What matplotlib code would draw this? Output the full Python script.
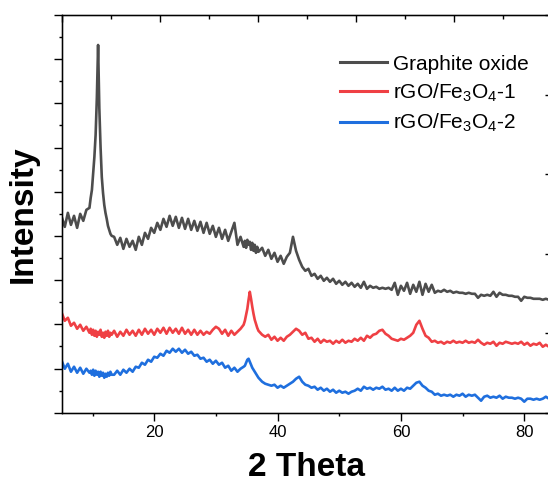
import numpy as np
import matplotlib
matplotlib.use('Agg')
import matplotlib.pyplot as plt
from matplotlib.ticker import MultipleLocator, FixedLocator, NullFormatter

plt.rcParams['font.family'] = ['Liberation Sans', 'DejaVu Sans']
plt.rcParams['mathtext.fontset'] = 'custom'
plt.rcParams['mathtext.rm'] = 'Liberation Sans'
plt.rcParams['mathtext.default'] = 'regular'

# 2-theta sampling (denser around the sharp peaks)
two_theta = np.concatenate([
    np.arange(5.0, 9.51, 0.5),
    np.arange(9.7, 13.11, 0.2),
    np.arange(13.5, 34.51, 0.5),
    np.arange(34.7, 36.91, 0.2),
    np.arange(37.5, 84.01, 0.5),
])

# Intensities (arbitrary units)
graphite_oxide = [
    196, 186, 200, 188, 197, 185, 199, 192, 203, 205,
    215, 223, 240, 256, 278, 315, 368, 305, 266, 236, 220, 208, 200, 194, 187, 183, 179, 177,
    176, 168, 175, 164, 174, 166, 172, 163, 176, 168, 180, 174, 185, 180, 190, 183, 194, 186,
    197, 187, 196, 185, 195, 184, 194, 183, 192, 182, 191, 180, 190, 179, 187, 176, 185, 174,
    183, 172, 181, 190, 168, 176, 166,
    172, 165, 173, 168, 171, 163, 170, 162, 168, 160, 166, 161,
    165, 157, 163, 154, 160, 151, 157, 149, 156, 160, 176, 162, 153, 146, 142, 144, 137, 139,
    134, 137, 132, 135, 131, 134, 129, 132, 128, 131, 127, 130, 126, 129, 125, 131, 124, 127,
    125, 126, 124, 125, 124, 125, 123, 130, 118, 127, 122, 130, 119, 128, 121, 131, 118, 129,
    121, 128, 120, 122, 121, 123, 121, 122, 120, 121, 120, 120, 119, 120, 119, 119, 115, 118,
    117, 118, 117, 121, 116, 120, 118, 118, 117, 117, 116, 116, 112, 116, 115, 115, 114, 114,
    114, 113, 114, 113,
]
rgo_fe3o4_1 = [
    100, 92, 95, 87, 90, 84, 88, 82, 86, 80,
    84, 78, 83, 77, 82, 76, 81, 78, 83, 76, 80, 75, 81, 77, 82, 76, 80, 78,
    82, 76, 81, 77, 83, 78, 82, 77, 83, 78, 84, 79, 83, 78, 84, 80, 85, 79, 85, 80, 84, 79,
    85, 79, 83, 78, 83, 78, 82, 78, 81, 79, 83, 86, 84, 79, 83, 77, 82, 78, 81, 84, 88,
    92, 98, 104, 113, 121, 114, 106, 99, 93, 89, 85, 82,
    78, 76, 78, 73, 76, 72, 75, 72, 76, 78, 81, 84, 82, 78, 80, 74, 75, 71, 74, 70, 73, 71,
    72, 69, 72, 70, 73, 70, 72, 71, 74, 72, 75, 72, 77, 75, 78, 79, 82, 83, 79, 77, 74, 73,
    72, 74, 73, 75, 77, 80, 88, 92, 84, 77, 75, 71, 72, 70, 71, 69, 71, 70, 72, 70, 71, 70,
    72, 70, 71, 70, 73, 70, 68, 70, 69, 71, 67, 70, 69, 71, 70, 69, 70, 69, 71, 68, 70, 67,
    69, 68, 70, 66, 68, 66,
]
rgo_fe3o4_2 = [
    52, 44, 49, 41, 46, 40, 45, 39, 44, 40,
    42, 38, 43, 37, 42, 38, 41, 36, 41, 37, 40, 35, 39, 36, 40, 37, 41, 38,
    38, 42, 38, 43, 40, 44, 41, 46, 45, 50, 48, 53, 51, 56, 55, 59, 57, 62, 60, 64, 61, 64,
    60, 63, 59, 61, 57, 58, 54, 55, 51, 53, 49, 52, 48, 50, 45, 47, 42, 45, 41, 44, 46,
    47, 50, 53, 54, 51, 48, 45, 43, 41, 39, 37, 35,
    31, 29, 28, 27, 28, 25, 27, 25, 27, 29, 31, 34, 36, 31, 28, 27, 25, 26, 23, 25, 22, 24,
    21, 23, 20, 22, 20, 21, 19, 21, 22, 24, 22, 26, 24, 25, 23, 25, 24, 26, 23, 24, 22, 25,
    22, 24, 22, 25, 24, 27, 30, 31, 27, 25, 22, 21, 18, 19, 17, 18, 17, 18, 16, 18, 17, 19,
    16, 18, 17, 18, 15, 12, 16, 17, 15, 16, 15, 17, 14, 16, 15, 15, 14, 15, 14, 11, 14, 14,
    13, 14, 13, 14, 16, 14,
]

labels = ['Graphite oxide', 'rGO/Fe$_3$O$_4$-1', 'rGO/Fe$_3$O$_4$-2']
colors = ['#4d4d4d', '#ef4044', '#1f6fde']

W, H = 548, 484
fig = plt.figure(figsize=(W / 100, H / 100), dpi=100)
ax = fig.add_axes([61.7 / W, 71.3 / H, 490.3 / W, 397.7 / H])

for series, lab, col in zip([graphite_oxide, rgo_fe3o4_1, rgo_fe3o4_2], labels, colors):
    ax.plot(two_theta, series, color=col, lw=1.9, label=lab)

ax.set_xlim(5.0, 84.5)
ax.set_ylim(0, 398)
ax.xaxis.set_major_locator(MultipleLocator(20))
ax.xaxis.set_minor_locator(MultipleLocator(10))
ax.yaxis.set_major_locator(FixedLocator(np.linspace(0, 398, 10)))
ax.yaxis.set_minor_locator(FixedLocator(np.linspace(22.11, 375.89, 9)))
ax.yaxis.set_major_formatter(NullFormatter())
ax.tick_params(which='both', direction='out', top=False, right=False, width=1.0, color='black')
ax.tick_params(which='major', length=5.8)
ax.tick_params(which='minor', length=2.4)
ax.tick_params(axis='x', labelsize=12, pad=3.4)
for sp in ax.spines.values():
    sp.set_linewidth(1.0)
    sp.set_color('black')

# mirrored axes (own tick spacing, ticks pointing inward)
axt = ax.twiny()
axt.set_xlim(0, 10)
axt.xaxis.set_major_locator(MultipleLocator(2))
axt.xaxis.set_minor_locator(MultipleLocator(1))
axt.tick_params(axis='x', which='both', direction='in', labeltop=False, width=1.0)
axt.tick_params(axis='x', which='major', length=5.0)
axt.tick_params(axis='x', which='minor', length=3.0)

axr = ax.twinx()
axr.set_ylim(0, 5)
axr.yaxis.set_major_locator(MultipleLocator(1))
axr.yaxis.set_minor_locator(MultipleLocator(0.5))
axr.tick_params(axis='y', which='both', direction='in', labelright=False, width=1.0)
axr.tick_params(axis='y', which='major', length=5.0)
axr.tick_params(axis='y', which='minor', length=3.0)

ax.set_xlabel('2 Theta', fontsize=24, fontweight='bold', labelpad=8)
ax.set_ylabel('Intensity', fontsize=24, fontweight='bold', labelpad=7)

leg = ax.legend(loc='upper left', bbox_to_anchor=(0.568, 0.90), frameon=False, fontsize=15,
                handlelength=2.25, handletextpad=0.3, labelspacing=0.38,
                borderpad=0, borderaxespad=0)
for line in leg.get_lines():
    line.set_linewidth(2.2)

fig.savefig('out.png', dpi=100)
